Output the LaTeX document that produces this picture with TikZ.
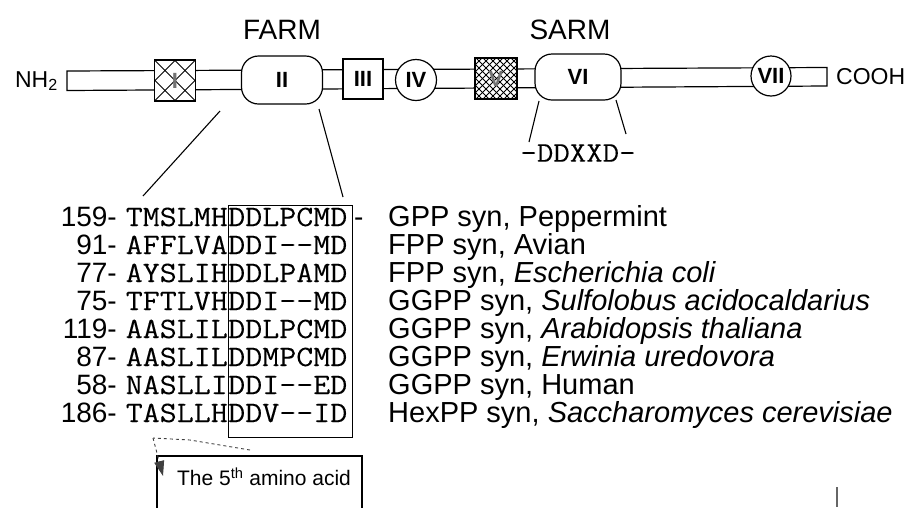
\documentclass[tikz,border=0pt]{standalone}
\usepackage{fontspec}
\setmainfont{Liberation Sans}
\newfontfamily\cour[FakeStretch=1.12,FakeBold=0.15]{Latin Modern Mono}
\usetikzlibrary{arrows.meta}
\newcommand\hy{\mbox{-}}
\begin{document}
\begin{tikzpicture}[x=1pt,y=-1pt,
  outl/.style={line width=1.2pt},
  dombox/.style={outl, draw, fill=white, inner sep=0, font=\fontsize{22}{22}\selectfont\bfseries},
  hatchA/.style={path picture={
    \foreach \k in {-40,-20,...,40}{
      \draw[line width=1pt] ([xshift=\k pt]path picture bounding box.north west) -- ++(60,60);
      \draw[line width=1pt] ([xshift=\k pt]path picture bounding box.south west) -- ++(60,-60);
    }}},
  hatchB/.style={path picture={
    \foreach \k in {-48,-41,...,48}{
      \draw[line width=1pt] ([xshift=\k pt]path picture bounding box.north west) -- ++(60,60);
      \draw[line width=1pt] ([xshift=\k pt]path picture bounding box.south west) -- ++(60,-60);
    }}},
  big/.style={font=\fontsize{28}{28}\selectfont, inner sep=0},
  term/.style={font=\fontsize{23}{23}\selectfont, inner sep=0},
  seqf/.style={font=\fontsize{29.5}{29.5}\cour, inner sep=0},
  numf/.style={font=\fontsize{28}{28}\selectfont, inner sep=0},
  spf/.style={font=\fontsize{29}{29}\selectfont, inner sep=0},
]
\useasboundingbox (0,0) rectangle (905,507);

% backbone
\draw[outl] (67,71) -- (827,67.5) -- (827,86) -- (67,90.5) -- cycle;
\node[term, anchor=east] (nh) at (58,81) {NH\textsubscript{2}};
\node[term, anchor=west] (cooh) at (836,77) {COOH};

% domains
\node[dombox, hatchA, minimum width=41, minimum height=41, text=black!55] (d1) at (175,80.5) {I};
\node[dombox, rounded corners=17, minimum width=81, minimum height=48] (d2) at (282,80) {II};
\node[dombox, minimum width=40, minimum height=40] (d3) at (363,79) {III};
\node[dombox, circle, minimum size=41] (d4) at (416,80) {IV};
\node[dombox, hatchB, minimum width=42, minimum height=41, text=black!55] (d5) at (496,78.5) {V};
\node[dombox, rounded corners=17, minimum width=86, minimum height=46] (d6) at (578,77) {VI};
\node[dombox, circle, minimum size=40] (d7) at (771,76) {VII};

\node[big] (farm) at (282,30) {FARM};
\node[big] (sarm) at (570,30) {SARM};

% zoom lines from II
\coordinate (a1) at (220,111);
\coordinate (a2) at (143,196);
\coordinate (b1) at (319,109);
\coordinate (b2) at (343,197);
\draw[line width=1.1pt] (a1) -- (a2);
\draw[line width=1.1pt] (b1) -- (b2);

% lines from VI
\node[font=\fontsize{28.5}{28.5}\cour, inner sep=0] (ddxxd) at (578,153) {-DDXXD-};
\coordinate (c1) at (539,101);
\coordinate (c2) at (529,142);
\coordinate (e1) at (616,100);
\coordinate (e2) at (626,134);
\draw[line width=1.1pt] (c1) -- (c2);
\draw[line width=1.1pt] (e1) -- (e2);

% alignment
\foreach \i/\n/\pre/\mot/\sp in {
  0/159-/TMSLMH/DDLPCMD/{GPP syn, Peppermint},
  1/91-/AFFLVA/DDI\hy\hy MD/{FPP syn, Avian},
  2/77-/AYSLIH/DDLPAMD/{FPP syn, \textit{Escherichia coli}},
  3/75-/TFTLVH/DDI\hy\hy MD/{GGPP syn, \textit{Sulfolobus acidocaldarius}},
  4/119-/AASLIL/DDLPCMD/{GGPP syn, \textit{Arabidopsis thaliana}},
  5/87-/AASLIL/DDMPCMD/{GGPP syn, \textit{Erwinia uredovora}},
  6/58-/NASLLI/DDI\hy\hy ED/{GGPP syn, Human},
  7/186-/TASLLH/DDV\hy\hy ID/{HexPP syn, \textit{Saccharomyces cerevisiae}}}{
  \pgfmathsetmacro\yb{226+28*\i}
  \node[numf, anchor=base east] (n\i) at (117,\yb) {\n};
  \node[seqf, anchor=base east] (p\i) at (228,\yb) {\pre};
  \node[seqf, anchor=base west] (m\i) at (228,\yb) {\mot};
  \node[spf, anchor=base west] (s\i) at (388,\yb) {\sp};
}
\node[numf, anchor=base west] (dash0) at (354,226) {-};
\node[draw, line width=1.1pt, anchor=north west, minimum width=124, minimum height=232, inner sep=0] (motif) at (228,205) {};

% note box
\node[font=\fontsize{21}{21}\selectfont, inner sep=0] (note) at (264,477) {The 5\textsuperscript{th} amino acid};
\coordinate (nb1) at (157,515);
\coordinate (nb2) at (157,456);
\coordinate (nb3) at (362,456);
\coordinate (nb4) at (362,515);
\draw[line width=1.1pt] (nb1) -- (nb2) -- (nb3) -- (nb4);

% dashed pointer
\coordinate (q0) at (250,450);
\coordinate (q1) at (190,440);
\coordinate (q2) at (153,438);
\coordinate (q3) at (163,476);
\draw[dashed, line width=0.9pt, black!75] (q0) -- (q1) -- (q2);
\draw[dashed, line width=0.9pt, black!75, -{Triangle[width=10pt,length=15pt]}] (q2) -- (q3);

% stray mark
\coordinate (m1) at (837,487);
\coordinate (m2) at (837,507);
\draw[line width=1.4pt, black!60] (m1) -- (m2);
\end{tikzpicture}
\end{document}
